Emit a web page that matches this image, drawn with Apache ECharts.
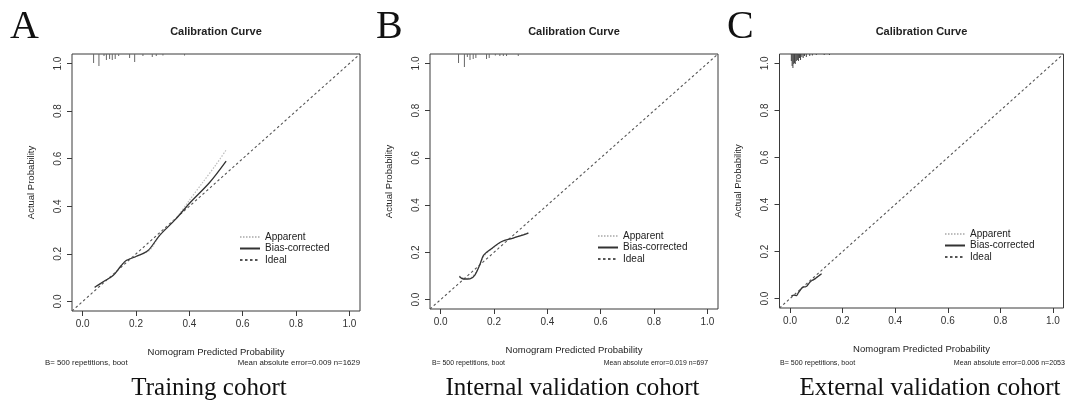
<!DOCTYPE html>
<html>
<head>
<meta charset="utf-8">
<script src="https://cdn.jsdelivr.net/npm/echarts@6/dist/echarts.min.js"></script>
<style>
html,body{margin:0;padding:0;background:#fff;}
#chart{width:1067px;height:400px;}
</style>
</head>
<body>
<div id="chart"></div>
<script>
// ---------- data ----------
const tickValues = [0, 0.2, 0.4, 0.6, 0.8, 1.0];
const axisRange = [-0.04, 1.04];
const idealLine = [-0.04, 1.04];
const panelLetters = ['A', 'B', 'C'];
const panelTitle = 'Calibration Curve';
const captions = ['Training cohort', 'Internal validation cohort', 'External validation cohort'];
const xName = 'Nomogram Predicted Probability';
const yName = 'Actual Probability';
const legendNames = ['Apparent', 'Bias-corrected', 'Ideal'];
const footLeft = 'B= 500 repetitions, boot';
const footRight = ['Mean absolute error=0.009 n=1629', 'Mean absolute error=0.019 n=697', 'Mean absolute error=0.006 n=2053'];

const apparentA = [[0.045,0.058],[0.08,0.084],[0.11,0.106],[0.145,0.153],[0.165,0.173],[0.2,0.19],[0.25,0.214],[0.29,0.28],[0.35,0.35],[0.4,0.425],[0.45,0.5],[0.5,0.575],[0.54,0.64]];
const biasA = [[0.045,0.06],[0.08,0.085],[0.114,0.109],[0.145,0.151],[0.163,0.172],[0.2,0.189],[0.245,0.214],[0.288,0.277],[0.35,0.347],[0.4,0.412],[0.476,0.5],[0.538,0.59]];
const rugA = [[0.041,9],[0.061,12],[0.08,2],[0.089,6],[0.101,5],[0.111,6],[0.122,5],[0.135,2],[0.176,4],[0.195,8],[0.226,2],[0.261,3],[0.276,2],[0.301,1.5],[0.382,1.5]];

const apparentB = [[0.07,0.1],[0.09,0.09],[0.115,0.094],[0.135,0.12],[0.15,0.158],[0.165,0.188],[0.19,0.213],[0.23,0.245],[0.27,0.26],[0.33,0.284]];
const biasB = [[0.07,0.098],[0.085,0.087],[0.11,0.088],[0.129,0.105],[0.147,0.148],[0.16,0.186],[0.185,0.211],[0.229,0.246],[0.272,0.26],[0.329,0.281]];
const rugB = [[0.067,9],[0.089,13],[0.1,3],[0.11,6],[0.122,5],[0.132,4],[0.172,5],[0.182,4],[0.205,1.5],[0.222,2],[0.235,2],[0.247,2],[0.291,2]];

const apparentC = [[0.005,0.011],[0.015,0.016],[0.025,0.015],[0.032,0.026],[0.038,0.035],[0.045,0.046],[0.05,0.05],[0.058,0.052],[0.063,0.054],[0.07,0.063],[0.076,0.071],[0.085,0.079],[0.095,0.085],[0.105,0.094],[0.12,0.107]];
const biasC = [[0.005,0.01],[0.015,0.015],[0.025,0.013],[0.032,0.025],[0.038,0.034],[0.045,0.045],[0.05,0.049],[0.058,0.05],[0.063,0.052],[0.07,0.062],[0.076,0.07],[0.085,0.078],[0.095,0.084],[0.105,0.093],[0.12,0.106]];
const rugC = [[0.005,7],[0.008,12],[0.011,14],[0.014,10],[0.017,9],[0.02,10],[0.024,7],[0.028,6],[0.032,7],[0.036,4],[0.04,6],[0.045,3],[0.05,4],[0.055,2],[0.062,3],[0.075,2],[0.085,1.5],[0.1,1],[0.13,1],[0.15,1]];

const apparentSets = [apparentA, apparentB, apparentC];
const biasSets = [biasA, biasB, biasC];
const rugSets = [rugA, rugB, rugC];

// ---------- layout ----------
const panels = [
  {left: 72,  top: 54, width: 288, height: 257, legendLeft: 239, legendTop: 232, footL: 45,  footR: 360,  footSize: 7.8, capX: 209,   letterX: 10},
  {left: 430, top: 54, width: 288, height: 255, legendLeft: 597, legendTop: 231, footL: 432, footR: 708,  footSize: 6.9, capX: 572.5, letterX: 376},
  {left: 779.5, top: 54, width: 284, height: 254, legendLeft: 944, legendTop: 229, footL: 780, footR: 1065, footSize: 7.1, capX: 930,   letterX: 727}
];

const sans = 'Liberation Sans, Arial, sans-serif';
const serif = 'Liberation Serif, Times New Roman, serif';
const grids = [], xAxes = [], yAxes = [], series = [], legends = [], graphics = [];

panels.forEach((p, i) => {
  grids.push({left: p.left, top: p.top, width: p.width, height: p.height, show: true,
    borderColor: '#3a3a3a', borderWidth: 1, backgroundColor: 'transparent', containLabel: false});
  grids.push({left: p.left, top: p.top, width: p.width, height: 20, show: false, containLabel: false});

  xAxes.push({
    gridIndex: 2 * i, type: 'value', min: axisRange[0], max: axisRange[1], position: 'bottom',
    axisLine: {show: false, onZero: false}, splitLine: {show: false},
    axisTick: {show: true, inside: false, customValues: tickValues, length: 5, lineStyle: {color: '#3a3a3a', width: 1}},
    axisLabel: {customValues: tickValues, formatter: v => v.toFixed(1), fontSize: 10, color: '#333', margin: 8, fontFamily: sans},
    name: xName, nameLocation: 'middle', nameGap: 36,
    nameTextStyle: {fontSize: 9.5, color: '#222', fontFamily: sans}
  });
  yAxes.push({
    gridIndex: 2 * i, type: 'value', min: axisRange[0], max: axisRange[1], position: 'left',
    axisLine: {show: false, onZero: false}, splitLine: {show: false},
    axisTick: {show: true, inside: false, customValues: tickValues, length: 5, lineStyle: {color: '#3a3a3a', width: 1}},
    axisLabel: {customValues: tickValues, formatter: v => v.toFixed(1), fontSize: 10, color: '#333', margin: 9, rotate: 90, fontFamily: sans},
    name: yName, nameLocation: 'middle', nameGap: 36,
    nameTextStyle: {fontSize: 9.5, color: '#222', fontFamily: sans}
  });
  xAxes.push({gridIndex: 2 * i + 1, type: 'value', min: axisRange[0], max: axisRange[1], show: false});
  yAxes.push({gridIndex: 2 * i + 1, type: 'value', min: 0, max: 20, inverse: true, show: false});

  const xi = 2 * i, ri = 2 * i + 1;
  series.push({
    name: 'Apparent', type: 'line', xAxisIndex: xi, yAxisIndex: xi, data: apparentSets[i],
    symbol: 'none', smooth: 0.3, silent: true, z: 3,
    lineStyle: {color: '#bdbdbd', width: 1.2, type: [1.5, 1.5]}, itemStyle: {color: '#bdbdbd'}
  });
  series.push({
    name: 'Bias-corrected', type: 'line', xAxisIndex: xi, yAxisIndex: xi, data: biasSets[i],
    symbol: 'none', smooth: 0.3, silent: true, z: 4,
    lineStyle: {color: '#333', width: 1.3, type: 'solid'}, itemStyle: {color: '#333'}
  });
  series.push({
    name: 'Ideal', type: 'line', xAxisIndex: xi, yAxisIndex: xi,
    data: [[idealLine[0], idealLine[0]], [idealLine[1], idealLine[1]]],
    symbol: 'none', silent: true, z: 2,
    lineStyle: {color: '#555', width: 1.1, type: [2.5, 2.5]}, itemStyle: {color: '#555'}
  });
  series.push({
    name: 'rug' + i, type: 'bar', xAxisIndex: ri, yAxisIndex: ri, data: rugSets[i],
    barWidth: 1, silent: true, itemStyle: {color: i === 2 ? '#444' : '#666'}
  });

  legends.push({
    data: legendNames, orient: 'vertical', left: p.legendLeft, top: p.legendTop,
    itemWidth: 20, itemHeight: 10, itemGap: 1.5, padding: 0, selectedMode: false,
    itemStyle: {opacity: 0},
    textStyle: {fontSize: 10, color: '#222', fontFamily: sans}
  });

  const cx = p.left + p.width / 2;
  graphics.push({type: 'text', left: p.letterX, top: 7, style: {text: panelLetters[i], font: '40px ' + serif, fill: '#111'}});
  graphics.push({type: 'text', x: cx, y: 31.5, style: {text: panelTitle, font: 'bold 11px ' + sans, fill: '#222', textAlign: 'center', textVerticalAlign: 'middle'}});
  graphics.push({type: 'text', x: p.footL, y: 363, style: {text: footLeft, font: p.footSize + 'px ' + sans, fill: '#222', textAlign: 'left', textVerticalAlign: 'middle'}});
  graphics.push({type: 'text', x: p.footR, y: 363, style: {text: footRight[i], font: p.footSize + 'px ' + sans, fill: '#222', textAlign: 'right', textVerticalAlign: 'middle'}});
  graphics.push({type: 'text', x: p.capX, y: 388, style: {text: captions[i], font: '25px ' + serif, fill: '#111', textAlign: 'center', textVerticalAlign: 'middle'}});
});

const chart = echarts.init(document.getElementById('chart'), null, {renderer: 'canvas'});
chart.setOption({
  animation: false,
  backgroundColor: '#fff',
  grid: grids, xAxis: xAxes, yAxis: yAxes,
  legend: legends, series: series, graphic: graphics
});
</script>
</body>
</html>
